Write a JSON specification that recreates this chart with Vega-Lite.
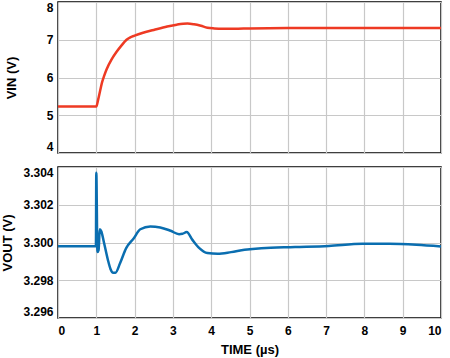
{
  "$schema": "https://vega.github.io/schema/vega-lite/v6.json",
  "padding": {"left": 1, "top": 0, "right": 2, "bottom": 2},
  "spacing": 11,
  "datasets": {
    "vin": [
      {"t": 0, "v": 5.23}, {"t": 0.99, "v": 5.23}, {"t": 1.0, "v": 5.23},
      {"t": 1.05, "v": 5.42}, {"t": 1.1, "v": 5.65}, {"t": 1.15, "v": 5.87},
      {"t": 1.2, "v": 6.03}, {"t": 1.27, "v": 6.22}, {"t": 1.4, "v": 6.48},
      {"t": 1.53, "v": 6.68}, {"t": 1.66, "v": 6.85}, {"t": 1.79, "v": 7.0},
      {"t": 1.9, "v": 7.07}, {"t": 2.0, "v": 7.11}, {"t": 2.2, "v": 7.18},
      {"t": 2.5, "v": 7.26}, {"t": 2.85, "v": 7.35}, {"t": 3.1, "v": 7.4},
      {"t": 3.38, "v": 7.43}, {"t": 3.55, "v": 7.41}, {"t": 3.73, "v": 7.37},
      {"t": 3.9, "v": 7.32}, {"t": 4.08, "v": 7.3}, {"t": 4.3, "v": 7.29},
      {"t": 4.6, "v": 7.29}, {"t": 5.0, "v": 7.3}, {"t": 6.0, "v": 7.31},
      {"t": 8.0, "v": 7.31}, {"t": 10, "v": 7.31}
    ],
    "vout": [
      {"t": 0, "v": 3.2998}, {"t": 0.99, "v": 3.2998}, {"t": 1.0, "v": 3.3037},
      {"t": 1.03, "v": 3.2995}, {"t": 1.06, "v": 3.2996}, {"t": 1.09, "v": 3.3007},
      {"t": 1.13, "v": 3.3006}, {"t": 1.2, "v": 3.3}, {"t": 1.3, "v": 3.2991},
      {"t": 1.37, "v": 3.2986}, {"t": 1.44, "v": 3.2984}, {"t": 1.5, "v": 3.2984},
      {"t": 1.62, "v": 3.2989}, {"t": 1.78, "v": 3.2997}, {"t": 1.97, "v": 3.3002},
      {"t": 2.15, "v": 3.3007}, {"t": 2.41, "v": 3.30085}, {"t": 2.67, "v": 3.3008},
      {"t": 2.94, "v": 3.30062}, {"t": 3.16, "v": 3.30044}, {"t": 3.25, "v": 3.30046},
      {"t": 3.36, "v": 3.30055}, {"t": 3.51, "v": 3.30014}, {"t": 3.69, "v": 3.2997},
      {"t": 3.9, "v": 3.29944}, {"t": 4.17, "v": 3.2994}, {"t": 4.52, "v": 3.29949},
      {"t": 4.87, "v": 3.29961}, {"t": 5.31, "v": 3.2997}, {"t": 6.19, "v": 3.29976},
      {"t": 7.07, "v": 3.29982}, {"t": 7.95, "v": 3.29993}, {"t": 8.65, "v": 3.29993},
      {"t": 9.36, "v": 3.29988}, {"t": 10, "v": 3.29979}
    ]
  },
  "vconcat": [
    {
      "width": 383,
      "height": 151,
      "data": {"name": "vin"},
      "mark": {"type": "line", "color": "#ee3a23", "strokeWidth": 2.5, "interpolate": "monotone", "clip": true},
      "encoding": {
        "x": {
          "field": "t", "type": "quantitative",
          "scale": {"domain": [0, 10], "nice": false},
          "axis": {"title": null, "labels": false, "values": [0,1,2,3,4,5,6,7,8,9,10]}
        },
        "y": {
          "field": "v", "type": "quantitative",
          "scale": {"domain": [4, 8], "nice": false, "zero": false},
          "axis": {"title": "VIN (V)", "values": [4,5,6,7,8], "labelFlush": true, "titlePadding": 28}
        }
      }
    },
    {
      "width": 383,
      "height": 151,
      "data": {"name": "vout"},
      "mark": {"type": "line", "color": "#0a6eb0", "strokeWidth": 2.5, "interpolate": "monotone", "clip": true},
      "encoding": {
        "x": {
          "field": "t", "type": "quantitative",
          "scale": {"domain": [0, 10], "nice": false},
          "axis": {"title": "TIME (µs)", "values": [0,1,2,3,4,5,6,7,8,9,10], "labelPadding": 7, "titlePadding": 7}
        },
        "y": {
          "field": "v", "type": "quantitative",
          "scale": {"domain": [3.296, 3.304], "nice": false, "zero": false},
          "axis": {"title": "VOUT (V)", "values": [3.296, 3.298, 3.3, 3.302, 3.304], "format": ".3f", "labelFlush": true, "titlePadding": 8}
        }
      }
    }
  ],
  "config": {
    "view": {"stroke": "#000000", "strokeWidth": 1.5},
    "axis": {
      "labelFont": "Liberation Sans", "labelFontWeight": "bold", "labelFontSize": 12, "labelColor": "#000000",
      "titleFont": "Liberation Sans", "titleFontWeight": "bold", "titleFontSize": 13, "titleColor": "#000000",
      "gridColor": "#c8c8c8", "gridWidth": 1.2, "ticks": false, "domain": false, "labelPadding": 5
    }
  }
}
